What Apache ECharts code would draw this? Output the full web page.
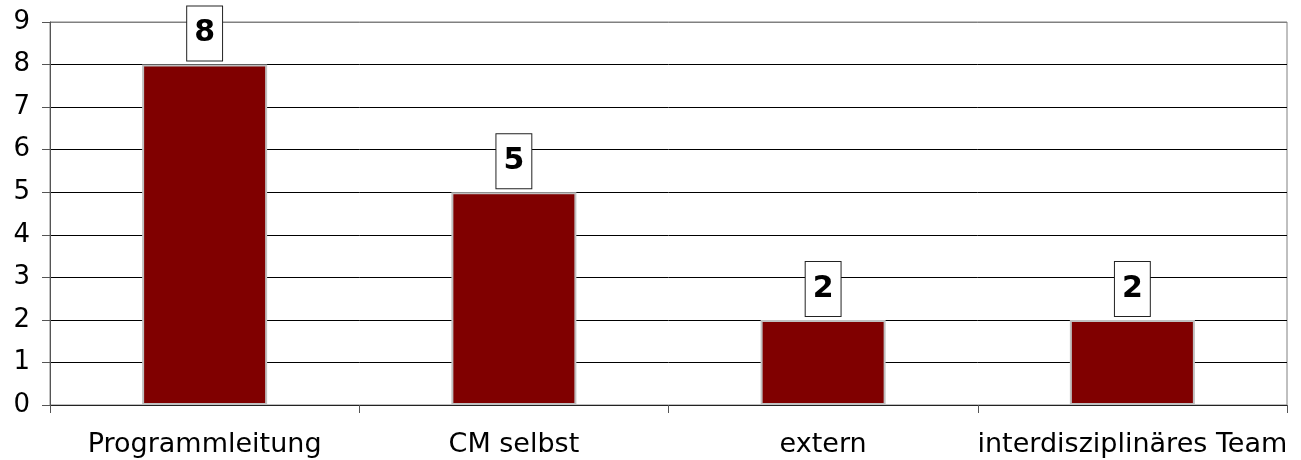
<!DOCTYPE html>
<html>
<head>
<meta charset="utf-8">
<script src="https://cdn.jsdelivr.net/npm/echarts@6/dist/echarts.min.js"></script>
<style>
  html, body { margin: 0; padding: 0; background: #fff; }
  #chart { width: 1301px; height: 460px; }
</style>
</head>
<body>
<div id="chart"></div>
<script>
const categories = ['Programmleitung', 'CM selbst', 'extern', 'interdisziplinäres Team'];
const counts = [8, 5, 2, 2];
const yTicks = [0, 1, 2, 3, 4, 5, 6, 7, 8, 9];

const FONT = '"DejaVu Sans", Verdana, sans-serif';

// grid lines are black; the topmost one belongs to the grey plot frame
const splitColors = yTicks.map((v, i) => (i === yTicks.length - 1 ? '#808080' : '#000000'));

const chart = echarts.init(document.getElementById('chart'), null, { renderer: 'canvas' });
chart.setOption({
  animation: false,
  backgroundColor: '#ffffff',
  grid: {
    left: 50, right: 14, top: 22, bottom: 55,
    show: true, borderColor: '#808080', borderWidth: 1, backgroundColor: 'transparent'
  },
  xAxis: {
    type: 'category',
    data: categories,
    axisLine: { show: true, lineStyle: { color: '#222', width: 1 } },
    axisTick: { show: true, alignWithLabel: false, length: 8, lineStyle: { color: '#555' } },
    axisLabel: { fontFamily: FONT, fontSize: 27, color: '#000', margin: 26, interval: 0 },
    splitLine: { show: false }
  },
  yAxis: {
    type: 'value',
    min: 0, max: 9, interval: 1,
    axisLine: { show: true, lineStyle: { color: '#555', width: 1 } },
    axisTick: { show: true, length: 8, lineStyle: { color: '#555' } },
    axisLabel: { fontFamily: FONT, fontSize: 26, color: '#000', margin: 20 },
    splitLine: { show: true, lineStyle: { color: splitColors, width: 1 } }
  },
  series: [{
    type: 'bar',
    data: counts,
    barWidth: 125,
    itemStyle: { color: '#800000', borderColor: '#c0c0c0', borderWidth: 2 },
    label: {
      show: true,
      position: 'top',
      distance: 4,
      fontFamily: FONT,
      fontSize: 30,
      fontWeight: 'bold',
      color: '#000',
      backgroundColor: '#ffffff',
      borderColor: '#222',
      borderWidth: 1,
      lineHeight: 32,
      padding: [11, 7, 11, 7]
    }
  }]
});
</script>
</body>
</html>
